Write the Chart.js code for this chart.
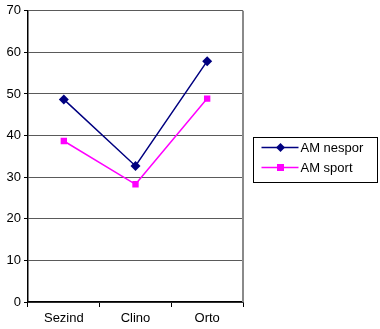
<!DOCTYPE html>
<html>
<head>
<meta charset="utf-8">
<script src="https://cdn.jsdelivr.net/npm/chart.js@4"></script>
<style>
  html, body { margin: 0; padding: 0; background: #fff; }
  #wrap { width: 380px; height: 329px; position: relative; }
</style>
</head>
<body>
<div id="wrap"><canvas id="c" width="380" height="329"></canvas></div>
<script>
// Positions (posture) and mean values for the two groups
const categories = ['Sezind', 'Clino', 'Orto'];
const amNespor = [48.7, 32.7, 57.9];
const amSport = [38.7, 28.3, 48.9];
const seriesNames = ['AM nespor', 'AM sport'];
const yTicks = [0, 10, 20, 30, 40, 50, 60, 70];

const FONT = 'Liberation Sans, Arial, sans-serif';

// Right border of the plot area plus the framed legend box
const framePlugin = {
  id: 'frame',
  afterDraw(chart) {
    const { ctx, chartArea: a } = chart;
    ctx.save();
    ctx.strokeStyle = '#8a8a8a';
    ctx.lineWidth = 2;
    ctx.beginPath();
    ctx.moveTo(a.right, a.top);
    ctx.lineTo(a.right, a.bottom);
    ctx.stroke();

    // legend
    const bx = 253.5, by = 137.5, bw = 124, bh = 45;
    ctx.strokeStyle = '#000';
    ctx.lineWidth = 1;
    ctx.strokeRect(bx, by, bw, bh);
    chart.data.datasets.forEach((ds, i) => {
      const y = by + 10 + i * 20;
      ctx.strokeStyle = ds.borderColor;
      ctx.lineWidth = 1.5;
      ctx.beginPath();
      ctx.moveTo(bx + 8, y);
      ctx.lineTo(bx + 45, y);
      ctx.stroke();
      ctx.fillStyle = ds.backgroundColor;
      if (ds.pointStyle === 'rectRot') {
        ctx.beginPath();
        ctx.moveTo(bx + 27, y - 4.5);
        ctx.lineTo(bx + 31.5, y);
        ctx.lineTo(bx + 27, y + 4.5);
        ctx.lineTo(bx + 22.5, y);
        ctx.closePath();
        ctx.fill();
      } else {
        ctx.fillRect(bx + 23.5, y - 3.5, 7, 7);
      }
      ctx.fillStyle = '#000';
      ctx.font = '13px ' + FONT;
      ctx.textBaseline = 'middle';
      ctx.textAlign = 'left';
      ctx.fillText(ds.label, bx + 47, y + 0.5);
    });
    ctx.restore();
  }
};

new Chart(document.getElementById('c'), {
  type: 'line',
  data: {
    labels: categories,
    datasets: [
      {
        label: seriesNames[0],
        data: amNespor,
        borderColor: '#000080',
        backgroundColor: '#000080',
        borderWidth: 1.5,
        pointStyle: 'rectRot',
        pointRadius: 5,
        pointHoverRadius: 5,
        pointBorderWidth: 0,
        tension: 0
      },
      {
        label: seriesNames[1],
        data: amSport,
        borderColor: '#ff00ff',
        backgroundColor: '#ff00ff',
        borderWidth: 1.5,
        pointStyle: 'rect',
        pointRadius: 4.5,
        pointHoverRadius: 4.5,
        pointBorderWidth: 0,
        tension: 0
      }
    ]
  },
  options: {
    responsive: false,
    animation: false,
    devicePixelRatio: 1,
    layout: { padding: { top: 8, right: 137, left: 0, bottom: 0 } },
    plugins: {
      legend: { display: false },
      tooltip: { enabled: false },
      title: { display: false }
    },
    scales: {
      x: {
        offset: true,
        grid: {
          offset: true,
          drawOnChartArea: false,
          drawTicks: true,
          tickLength: 5,
          color: '#000'
        },
        border: { color: '#000', width: 1.5 },
        ticks: {
          color: '#000',
          font: { family: FONT, size: 13 },
          padding: 4,
          maxRotation: 0
        },
        afterFit(scale) { scale.height = 27; }
      },
      y: {
        min: 0,
        max: 70,
        afterBuildTicks(scale) { scale.ticks = yTicks.map(v => ({ value: v })); },
        grid: {
          color: '#5a5a5a',
          lineWidth: 1,
          drawTicks: true,
          tickLength: 4,
          tickColor: '#000'
        },
        border: { color: '#000', width: 1.5 },
        ticks: {
          color: '#000',
          font: { family: FONT, size: 13 },
          padding: 3
        },
        afterFit(scale) { scale.width = 28; }
      }
    }
  },
  plugins: [framePlugin]
});
</script>
</body>
</html>
